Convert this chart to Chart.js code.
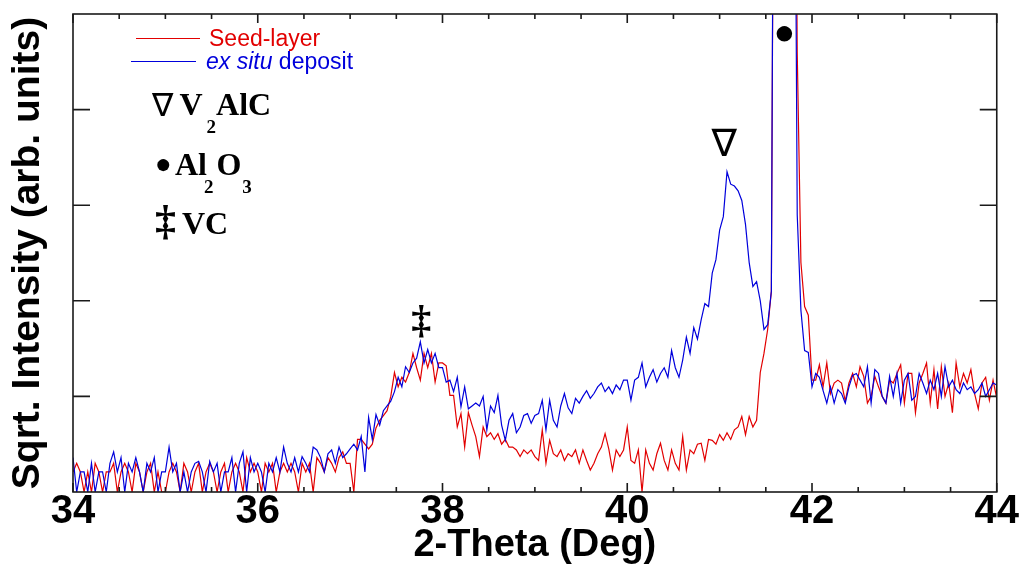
<!DOCTYPE html>
<html>
<head>
<meta charset="utf-8">
<script src="https://cdn.jsdelivr.net/npm/chart.js@4.4.1/dist/chart.umd.min.js"></script>
<style>
  html, body { margin: 0; padding: 0; background: #fff; }
  #xrd { display: block; }
</style>
</head>
<body>
<canvas id="xrd" width="1019" height="565"></canvas>
<script>
// 2-theta scan: 34..44 deg, 0.04 deg step
const scanStart = 34;
const scanStep = 0.04;
const scanPoints = 251;
const twoTheta = Array.from({ length: scanPoints }, (_, i) => +(scanStart + i * scanStep).toFixed(2));

// sqrt intensity, one row per degree (25 points)
const seedLayer = [
  0.21, 0.30, 0.21, 0, 0.21, 0, 0.30, 0.21, 0, 0.21, 0.21, 0.30, 0, 0.21, 0.30, 0.21, 0, 0.30, 0.21, 0, 0.21, 0.30, 0, 0.21, 0,
  0, 0.21, 0.30, 0.21, 0, 0.30, 0.21, 0, 0.21, 0.30, 0, 0.21, 0.30, 0.21, 0, 0.21, 0.30, 0, 0.21, 0.30, 0.21, 0, 0.36, 0.21, 0.30,
  0.21, 0, 0.30, 0.21, 0.30, 0, 0.21, 0.30, 0.21, 0.30, 0.21, 0, 0.30, 0.21, 0.30, 0, 0.36, 0.30, 0.21, 0.36, 0.30, 0.21, 0.36, 0.42, 0.30,
  0.30, 0, 0.55, 0.55, 0.50, 0.45, 0.50, 0.67, 0.75, 0.80, 0.85, 1.00, 1.25, 1.10, 1.20, 1.15, 1.25, 1.45, 1.30, 1.17, 1.45, 1.30, 1.45, 1.15, 1.35,
  1.35, 1.32, 1.01, 1.01, 0.68, 0.82, 0.47, 0.83, 0.70, 0.58, 0.37, 0.68, 0.58, 0.62, 0.55, 0.61, 0.50, 0.55, 0.47, 0.47, 0.44, 0.37, 0.44, 0.40, 0.44,
  0.37, 0.33, 0.65, 0.30, 0.54, 0.40, 0.37, 0.44, 0.33, 0.40, 0.37, 0.44, 0.30, 0.44, 0.33, 0.23, 0.30, 0.40, 0.47, 0.61, 0.45, 0.23, 0.44, 0.37, 0.44,
  0.68, 0.33, 0.30, 0.44, 0, 0.44, 0.30, 0.23, 0.40, 0.51, 0.33, 0.23, 0.44, 0.30, 0.23, 0.58, 0.23, 0.44, 0.40, 0.50, 0.51, 0.33, 0.55, 0.54, 0.50,
  0.60, 0.54, 0.62, 0.55, 0.65, 0.68, 0.79, 0.60, 0.79, 0.68, 0.75, 1.25, 1.45, 1.70, 2.10, 10.5, 14.2, 15.8, 15.1, 12.6, 10.4, 4.6, 2.4, 1.94, 1.85,
  1.17, 1.17, 1.33, 1.10, 1.35, 1.03, 1.14, 1.17, 1.14, 0.95, 1.14, 1.24, 1.10, 1.31, 1.21, 0.93, 1.00, 1.21, 1.10, 1.00, 0.93, 1.17, 1.14, 1.24, 1.33,
  0.93, 1.24, 1.24, 0.83, 1.14, 1.24, 1.35, 0.93, 1.28, 0.87, 1.31, 1.00, 1.14, 0.83, 1.35, 1.10, 1.24, 1.14, 1.28, 1.03, 0.87, 1.14, 1.20, 0.96, 1.17,
  0.98
];

const exSitu = [
  0.36, 0, 0.21, 0.21, 0, 0.30, 0, 0.21, 0.21, 0, 0.30, 0.42, 0.21, 0.36, 0, 0.30, 0.21, 0.36, 0.21, 0, 0.30, 0.21, 0.36, 0, 0.21,
  0.21, 0.47, 0.21, 0.30, 0, 0.21, 0, 0.21, 0.30, 0.32, 0.21, 0, 0.32, 0.21, 0.30, 0, 0.21, 0.21, 0.36, 0, 0.30, 0.42, 0, 0.36, 0.21,
  0.30, 0.21, 0, 0.30, 0.21, 0.36, 0.21, 0.47, 0.30, 0.21, 0.36, 0.21, 0.37, 0.30, 0.21, 0.47, 0.44, 0.36, 0.21, 0.40, 0.44, 0.30, 0.47, 0.36, 0.40,
  0.45, 0.50, 0.44, 0.58, 0.21, 0.78, 0.55, 0.81, 0.70, 0.85, 0.90, 0.95, 1.05, 1.20, 1.10, 1.31, 1.25, 1.35, 1.40, 1.57, 1.35, 1.49, 1.35, 1.45, 1.30,
  1.30, 1.15, 1.17, 1.05, 1.20, 0.89, 1.10, 0.87, 0.90, 0.93, 0.90, 1.00, 0.65, 0.90, 0.83, 1.01, 0.70, 0.54, 0.75, 0.82, 0.62, 0.68, 0.80, 0.82, 0.72,
  0.80, 0.82, 0.96, 0.65, 0.96, 0.75, 0.68, 0.90, 1.03, 0.88, 0.82, 0.98, 0.93, 1.00, 1.06, 0.98, 1.03, 1.10, 1.14, 1.05, 1.10, 1.03, 1.12, 1.07, 1.17,
  1.17, 0.96, 1.17, 1.20, 1.35, 1.10, 1.20, 1.28, 1.15, 1.24, 1.30, 1.20, 1.48, 1.30, 1.20, 1.38, 1.62, 1.45, 1.72, 1.60, 1.80, 1.97, 1.94, 2.29, 2.43,
  2.74, 2.88, 3.35, 3.22, 3.20, 3.15, 3.05, 2.80, 2.40, 2.15, 2.20, 2.00, 1.70, 1.75, 2.10, 11.0, 14.5, 15.6, 14.8, 12.0, 9.8, 2.9, 1.9, 1.48, 1.46,
  1.10, 1.24, 1.20, 1.06, 0.93, 1.10, 0.93, 1.07, 1.03, 0.93, 1.10, 1.22, 1.24, 1.17, 1.10, 1.31, 0.93, 1.28, 1.24, 1.00, 0.93, 1.21, 1.00, 1.24, 0.93,
  1.17, 1.24, 0.96, 1.00, 1.24, 1.14, 1.03, 1.17, 1.07, 1.24, 1.00, 1.31, 1.10, 1.17, 1.07, 1.03, 1.14, 1.07, 1.10, 1.03, 1.07, 1.14, 1.00, 1.07, 1.14,
  1.12
];

// phase markers placed at (2-theta, sqrt intensity)
const peakMarks = [
  { glyph: '\u2207', at: [41.05, 3.62], font: "38px 'DejaVu Sans', sans-serif" },
  { glyph: '\u25CF', at: [41.70, 4.78], font: "36px 'Liberation Serif', 'DejaVu Serif', serif" },
  { glyph: '\u2021', at: [37.77, 1.77], font: "bold 40px 'Liberation Serif', 'DejaVu Serif', serif" },
];

const xMin = 34, xMax = 44, xMajor = 2, xMinor = 0.5;
const yMin = 0, yMax = 5;

const RED = 'rgb(226,0,0)';
const BLUE = 'rgb(0,0,220)';
const SANS = "'Liberation Sans', Arial, sans-serif";
const SERIF = "'Liberation Serif', 'Times New Roman', 'DejaVu Serif', serif";

// draws consecutive text pieces, each with its own font and baseline shift
function drawRuns(ctx, x, y, runs) {
  let cx = x;
  runs.forEach(r => {
    ctx.font = r.font;
    ctx.fillStyle = r.color || '#000';
    cx += r.gap || 0;
    ctx.fillText(r.text, cx, y + (r.dy || 0));
    cx += ctx.measureText(r.text).width;
  });
}

const xrdDecor = {
  id: 'xrdDecor',
  afterDraw(chart) {
    const { ctx, chartArea: a, scales: { x, y } } = chart;
    ctx.save();

    // frame
    ctx.strokeStyle = '#1a1a1a';
    ctx.lineWidth = 1.6;
    ctx.strokeRect(a.left, a.top, a.right - a.left, a.bottom - a.top);

    // inward ticks on all four sides
    ctx.beginPath();
    const nx = Math.round((xMax - xMin) / xMinor);
    for (let i = 0; i <= nx; i++) {
      const v = xMin + i * xMinor;
      const px = x.getPixelForValue(v);
      const len = (i % Math.round(xMajor / xMinor) === 0) ? 9 : 5;
      ctx.moveTo(px, a.bottom); ctx.lineTo(px, a.bottom - len);
      ctx.moveTo(px, a.top); ctx.lineTo(px, a.top + len);
    }
    for (let v = yMin + 1; v < yMax; v++) {
      const py = y.getPixelForValue(v);
      ctx.moveTo(a.left, py); ctx.lineTo(a.left + 17, py);
      ctx.moveTo(a.right, py); ctx.lineTo(a.right - 17, py);
    }
    ctx.stroke();

    // series key
    ctx.lineWidth = 1.2;
    ctx.strokeStyle = RED;
    ctx.beginPath(); ctx.moveTo(136, 38.5); ctx.lineTo(200, 38.5); ctx.stroke();
    ctx.strokeStyle = BLUE;
    ctx.beginPath(); ctx.moveTo(131, 61.5); ctx.lineTo(196, 61.5); ctx.stroke();
    ctx.textBaseline = 'alphabetic';
    ctx.textAlign = 'left';
    drawRuns(ctx, 209, 46, [{ text: 'Seed-layer', font: `23px ${SANS}`, color: RED }]);
    drawRuns(ctx, 206, 69, [
      { text: 'ex situ', font: `italic 23px ${SANS}`, color: BLUE },
      { text: ' deposit', font: `23px ${SANS}`, color: BLUE },
    ]);

    // phase key
    const big = `bold 32px ${SERIF}`;
    const sub = `bold 19px ${SERIF}`;
    drawRuns(ctx, 152, 116, [
      { text: '\u2207', font: "32px 'DejaVu Sans', sans-serif" },
      { text: 'V', font: big, gap: 6, dy: -1 },
      { text: '2', font: sub, dy: 17, gap: 4 },
      { text: 'AlC', font: big, dy: -1 },
    ]);
    drawRuns(ctx, 155, 175, [
      { text: '\u25CF', font: `28px ${SERIF}`, dy: -2 },
      { text: 'Al', font: big, gap: 3 },
      { text: '2', font: sub, dy: 18, gap: -3 },
      { text: 'O', font: big, gap: 3 },
      { text: '3', font: sub, dy: 18, gap: 1 },
    ]);
    drawRuns(ctx, 155, 234, [
      { text: '\u2021', font: `bold 42px ${SERIF}` },
      { text: 'VC', font: big, gap: 6 },
    ]);

    // markers over the peaks
    ctx.textAlign = 'center';
    ctx.textBaseline = 'middle';
    ctx.fillStyle = '#000';
    peakMarks.forEach(m => {
      ctx.font = m.font;
      ctx.fillText(m.glyph, x.getPixelForValue(m.at[0]), y.getPixelForValue(m.at[1]));
    });

    ctx.restore();
  }
};

new Chart(document.getElementById('xrd'), {
  type: 'line',
  data: {
    labels: twoTheta,
    datasets: [
      { label: 'Seed-layer', data: seedLayer, borderColor: RED, borderWidth: 1.2, pointRadius: 0, order: 1 },
      { label: 'ex situ deposit', data: exSitu, borderColor: BLUE, borderWidth: 1.2, pointRadius: 0, order: 0 },
    ]
  },
  options: {
    responsive: false,
    animation: false,
    layout: { padding: { top: 14, right: 21, left: 0, bottom: 0 } },
    plugins: { legend: { display: false }, tooltip: { enabled: false } },
    elements: { line: { tension: 0 } },
    scales: {
      x: {
        type: 'linear',
        min: xMin,
        max: xMax,
        grid: { display: false, drawTicks: false },
        border: { display: false },
        ticks: {
          stepSize: xMajor,
          padding: 0,
          color: '#000',
          font: { family: SANS, size: 40, weight: 'bold', lineHeight: 1 },
          maxRotation: 0,
        },
        title: {
          display: true,
          text: '2-Theta (Deg)',
          color: '#000',
          padding: { top: 0, bottom: 0 },
          font: { family: SANS, size: 38, weight: 'bold', lineHeight: 1 },
        },
        afterFit(scale) { scale.height = 73; }
      },
      y: {
        min: yMin,
        max: yMax,
        grid: { display: false, drawTicks: false },
        border: { display: false },
        ticks: { display: false, stepSize: 1 },
        title: {
          display: true,
          text: 'Sqrt. Intensity (arb. units)',
          color: '#000',
          padding: { top: 5, bottom: 0 },
          font: { family: SANS, size: 39, weight: 'bold', lineHeight: 1.2 },
        },
        afterFit(scale) { scale.width = 73; }
      }
    }
  },
  plugins: [xrdDecor]
});
</script>
</body>
</html>
